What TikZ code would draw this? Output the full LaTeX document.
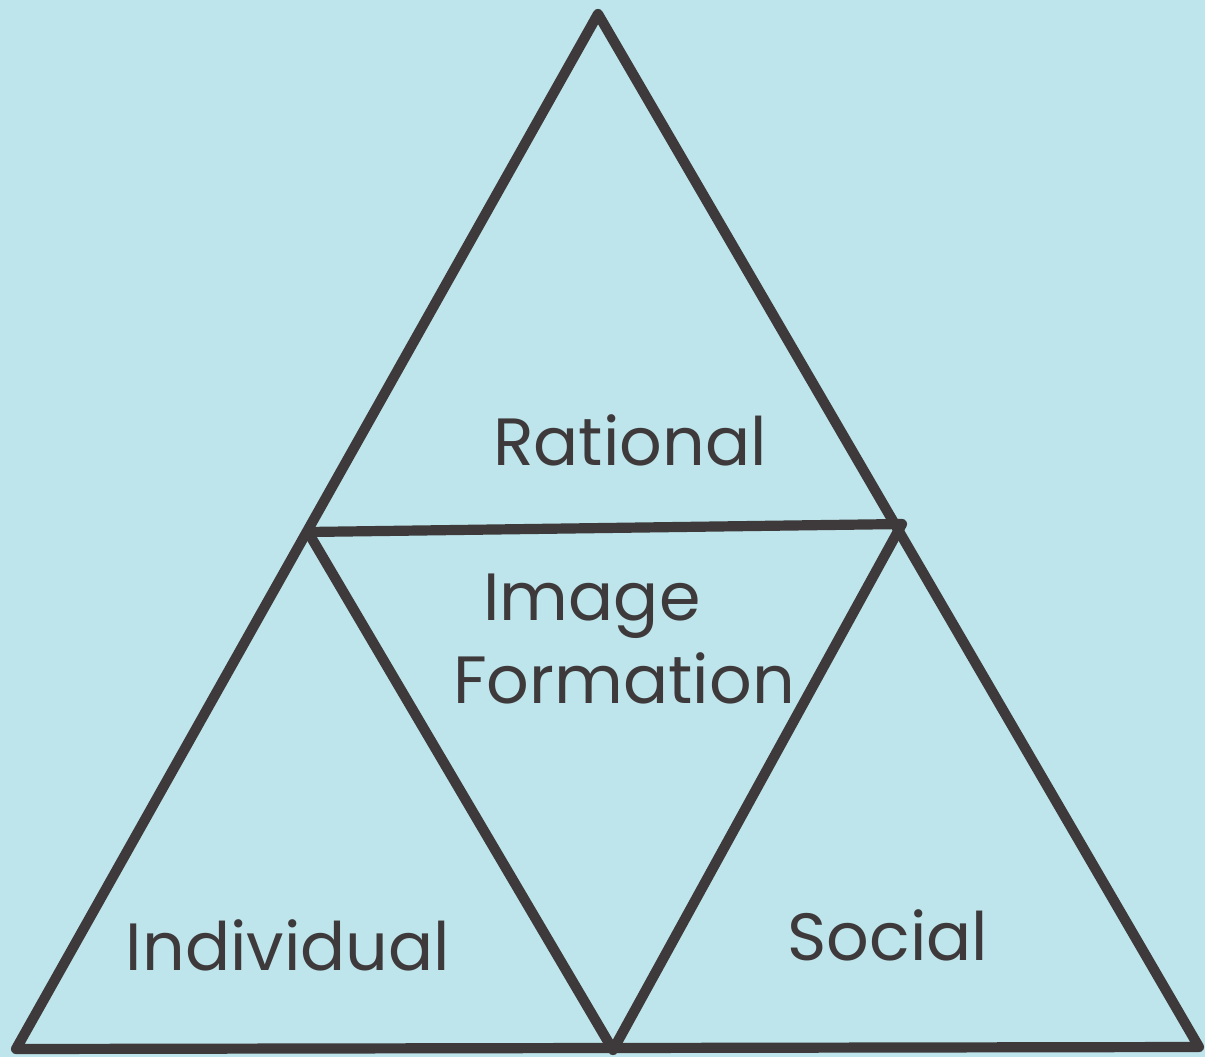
\documentclass[tikz,border=0pt]{standalone}
\usepackage{fontspec}
\setmainfont{Poppins}
\usepackage{tikz}
\usetikzlibrary{positioning}

\definecolor{paper}{HTML}{BEE5EB}
\definecolor{ink}{HTML}{3E3A3B}

\tikzset{
  edge/.style={draw=ink, line width=2.9pt, line join=round, line cap=round},
  label/.style={text=ink, font=\fontsize{19}{23}\selectfont, inner sep=0pt}
}

\begin{document}
\begin{tikzpicture}[x=0.01cm, y=-0.01cm]
  % paper
  \fill[paper] (0,0) rectangle (1205,1057);
  \useasboundingbox (0,0) rectangle (1205,1057);

  % corners of the big triangle and the mid points
  \coordinate (Top) at (598, 14);
  \coordinate (BL) at (16, 1049);
  \coordinate (BR) at (1199, 1047);
  \coordinate (ML) at (308, 532);
  \coordinate (MR) at (902, 524);
  \coordinate (MB) at (613, 1050);

  \draw[edge] (Top) -- (BL) -- (BR) -- cycle;
  \draw[edge] (ML) -- (MR) -- (MB) -- cycle;

  \node[label] (rational) at (630, 440) {Rational};
  \node[label] (formation) at (624, 678) {Formation};
  \node[label, above=0.12cm of formation, xshift=-0.32cm] (image) {Image};
  \node[label] (individual) at (288, 945) {Individual};
  \node[label] (social) at (888, 935) {Social};
\end{tikzpicture}
\end{document}
